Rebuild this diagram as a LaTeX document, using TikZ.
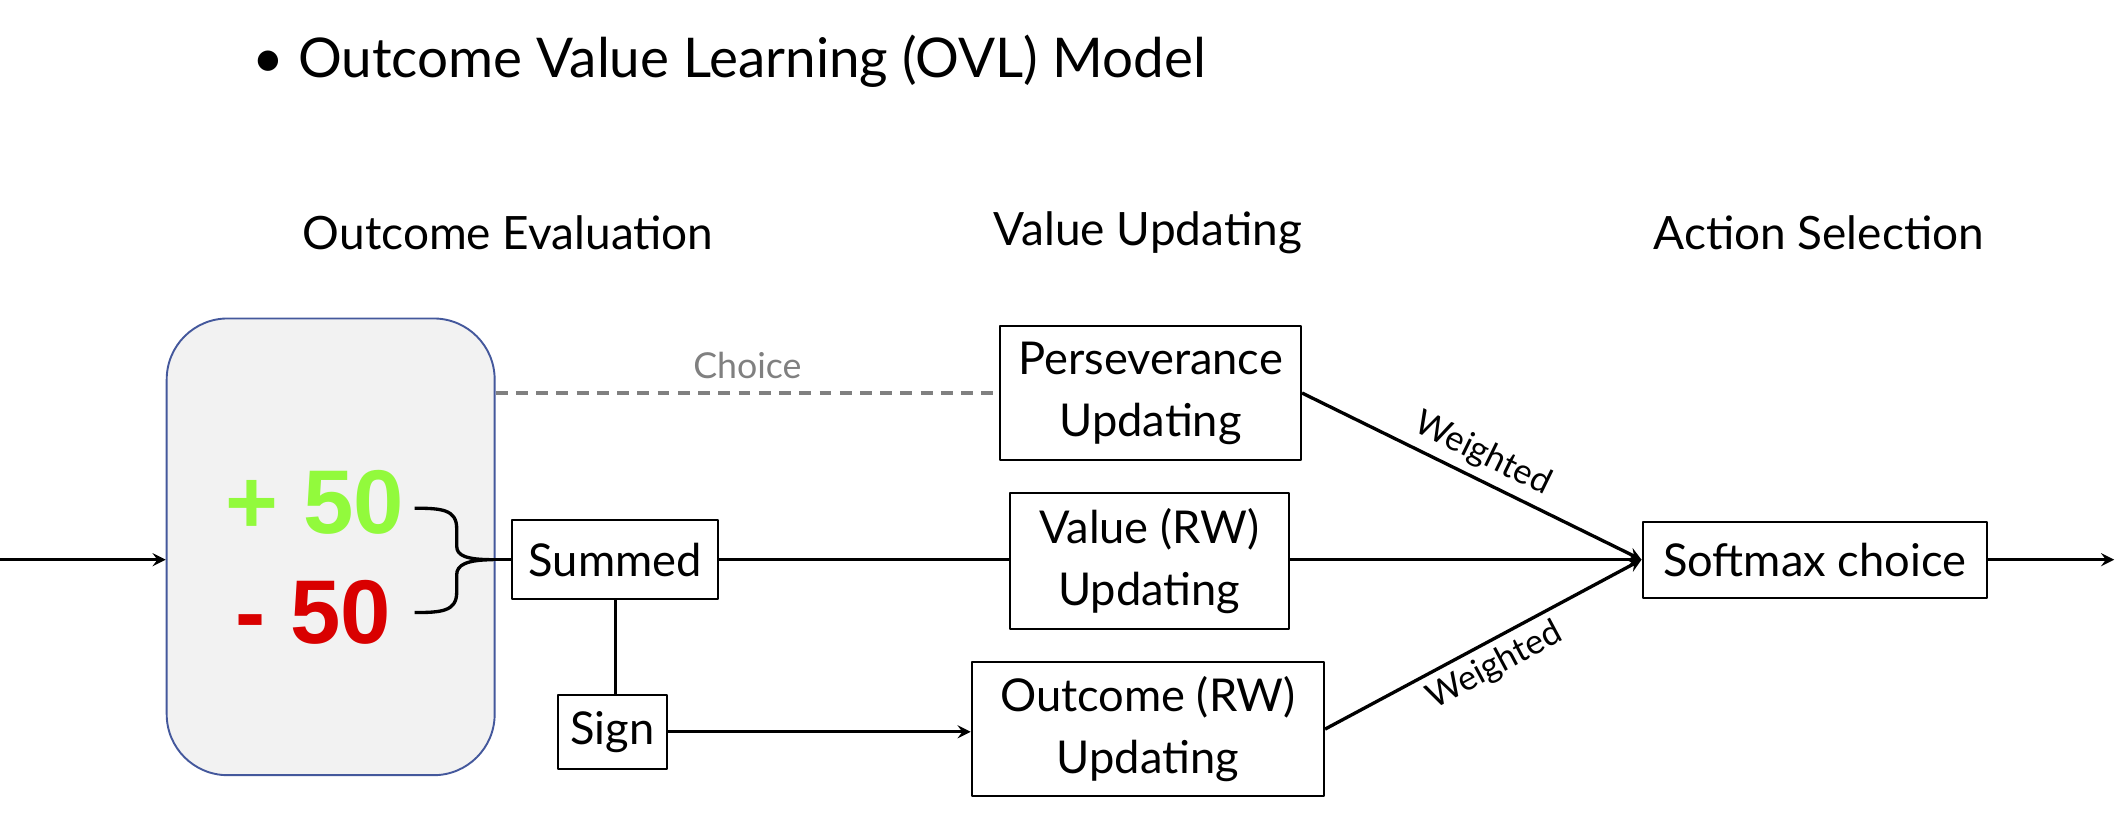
\documentclass[tikz,border=0pt]{standalone}
\usepackage{fontspec}
\setmainfont{Lato}
\newfontfamily\numfont{Liberation Sans}
\definecolor{evalblue}{RGB}{68,88,156}
\definecolor{evalgray}{RGB}{242,242,242}
\definecolor{gaingreen}{RGB}{146,250,60}
\definecolor{lossred}{RGB}{217,0,0}
\definecolor{choicegray}{RGB}{128,128,128}
\begin{document}
\begin{tikzpicture}[x=0.2mm, y=-0.2mm, line join=round, >=stealth,
	stage/.style={draw, line width=.85pt, align=center, inner sep=0pt, font=\fontsize{19}{26}\selectfont},
	head/.style={font=\fontsize{19.3}{24}\selectfont},
	flow/.style={line width=1.4pt},
	wlab/.style={font=\fontsize{14.5}{16}\selectfont, sloped, inner sep=3pt},
	bignum/.style={font=\numfont\bfseries\fontsize{38}{40}\selectfont}]
	\useasboundingbox (0,0) rectangle (1568,606);
	\node[anchor=west, font=\fontsize{23}{28}\selectfont] (title) at (180,45) {\textbullet\hspace{6pt}Outcome Value Learning (OVL) Model};
	\node[head] (evalhead) at (375,172) {Outcome Evaluation};
	\node[head] (updhead) at (847,172) {Value Updating};
	\node[head] (acthead) at (1342,172) {Action Selection};
	\node[draw=evalblue, fill=evalgray, line width=.8pt, rounded corners=9mm, minimum width=48.4mm, minimum height=67.4mm] (evalbox) at (244,403.5) {};
	\node[bignum, text=gaingreen] (gain) at (232,371) {+ 50};
	\node[bignum, text=lossred] (loss) at (231,452) {- 50};
	\node[stage, minimum width=30.4mm, minimum height=11.6mm] (summed) at (454,413) {Summed};
	\node[stage, minimum width=16.2mm, minimum height=11mm] (sign) at (452,540) {Sign};
	\node[stage, minimum width=44.4mm, minimum height=19.8mm] (persev) at (849,290) {Perseverance\\Updating};
	\node[stage, minimum width=41.2mm, minimum height=20mm] (value) at (848,414) {Value (RW)\\Updating};
	\node[stage, minimum width=52mm, minimum height=19.8mm] (outcome) at (847,538) {Outcome (RW)\\Updating};
	\node[stage, minimum width=50.8mm, minimum height=11.2mm] (softmax) at (1339,413) {Softmax choice};
	\coordinate (in) at (0,413);
	\coordinate (out) at (1560,413);
	\coordinate (bracetip) at (364,413);
	\draw[flow] (306,375) .. controls (326,375) and (337,376) .. (337,390) -- (337,403) .. controls (337,410) and (344,413) .. (bracetip)
		(306,452) .. controls (326,452) and (337,451) .. (337,437) -- (337,424) .. controls (337,417) and (344,413) .. (bracetip);
	\draw[flow] (bracetip) -- (summed.west);
	\draw[flow,->] (in) -- (in -| evalbox.west);
	\draw[line width=1.4pt, choicegray, dash pattern=on 5pt off 3.5pt] (evalbox.east |- persev.west) -- node[above, font=\fontsize{15}{18}\selectfont, yshift=2pt] {Choice} (persev.west);
	\draw[flow] (summed.east) -- (summed.east -| value.west);
	\draw[flow] (summed.south) -- (summed.south |- sign.north);
	\draw[flow,->] (sign.east) -- (sign.east -| outcome.west);
	\draw[flow,->] (persev.east) -- node[wlab, above] {Weighted} (softmax.west);
	\draw[flow,->] (value.east |- softmax.west) -- (softmax.west);
	\draw[flow,->] (outcome.east) -- node[wlab, below] {Weighted} (softmax.west);
	\draw[flow,->] (softmax.east) -- (out);
\end{tikzpicture}
\end{document}
